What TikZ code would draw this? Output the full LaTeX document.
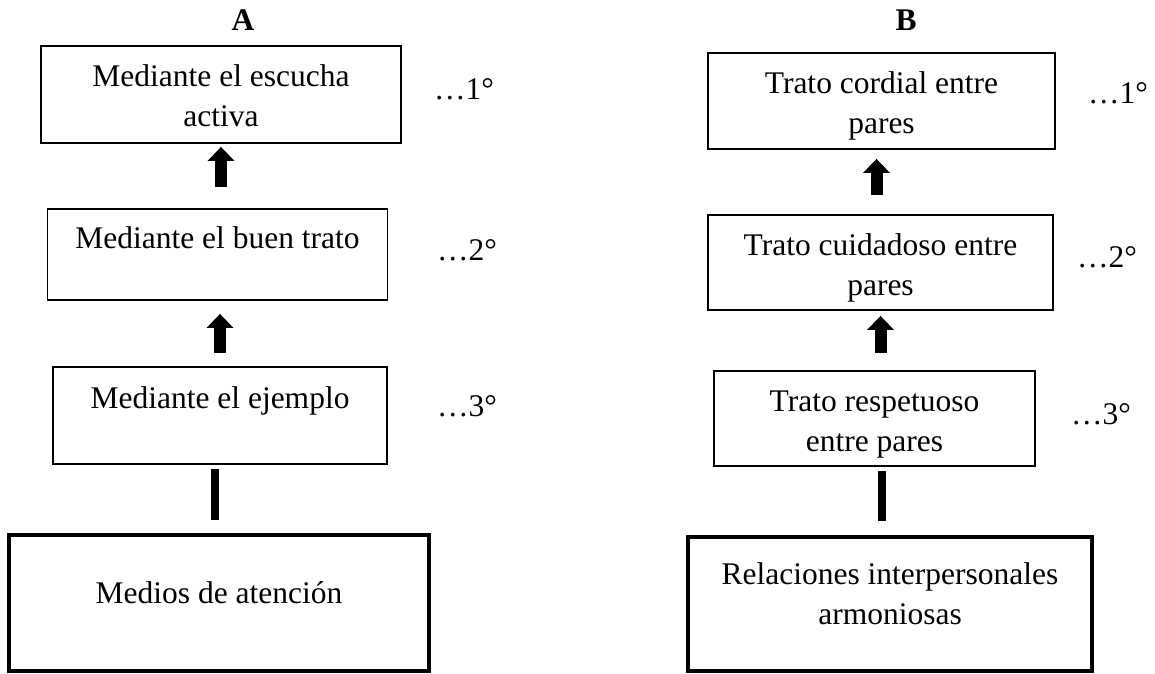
\documentclass[tikz,border=0pt]{standalone}
\usepackage{fontspec}
\setmainfont{Liberation Serif}
\usetikzlibrary{arrows.meta}
\begin{document}
\begin{tikzpicture}[x=1pt,y=-1pt,
  box/.style={draw, line width=1.8pt, inner sep=0pt},
  basebox/.style={draw, line width=3.5pt, inner sep=0pt},
  txt/.style={font=\fontsize{31.5pt}{40pt}\selectfont, align=center, inner sep=0pt, anchor=north},
  lvl/.style={font=\fontsize{31.5pt}{40pt}\selectfont, inner sep=0pt, anchor=base west},
  head/.style={font=\bfseries\fontsize{31.5pt}{40pt}\selectfont, inner sep=0pt, anchor=base},
  fatarrow/.style={line width=12pt, -{Triangle[width=26pt,length=14pt]}},
  bar/.style={line width=8pt}]
\useasboundingbox (0,0) rectangle (1155,673);

% column A
\node[head] (ha) at (243,30) {A};
\node[box, minimum width=360pt, minimum height=97pt] (a1) at (221,94.5) {};
\node[box, minimum width=340pt, minimum height=91pt] (a2) at (217.5,254.5) {};
\node[box, minimum width=334.5pt, minimum height=97pt] (a3) at (220,415.5) {};
\node[basebox, minimum width=420pt, minimum height=136pt] (a4) at (219,603) {};
\node[txt] (ta1) at (221,58) {\strut Mediante el escucha\\activa};
\node[txt] (ta2) at (217.5,220) {\strut Mediante el buen trato};
\node[txt] (ta3) at (220,380) {\strut Mediante el ejemplo};
\node[txt] (ta4) at (219,575) {\strut Medios de atención};
\node[lvl] (la1) at (434,99) {…1°};
\node[lvl] (la2) at (437,260) {…2°};
\node[lvl] (la3) at (437,416) {…3°};
\draw[fatarrow, shorten <=21pt, shorten >=3pt] (a1.south |- a2.north) -- (a1.south);
\draw[fatarrow, shorten <=13pt, shorten >=13pt] (a3.north) -- (a3.north |- a2.south);
\draw[bar, shorten <=13pt, shorten >=4pt] ([xshift=-4pt]a4.north) -- ([xshift=-4pt]a4.north |- a3.south);

% column B
\node[head] (hb) at (906,30) {B};
\node[box, minimum width=347pt, minimum height=96pt] (b1) at (881.5,101) {};
\node[box, minimum width=345pt, minimum height=95pt] (b2) at (880.5,262.5) {};
\node[box, minimum width=321pt, minimum height=95pt] (b3) at (874.5,418.5) {};
\node[basebox, minimum width=404pt, minimum height=134pt] (b4) at (890,604) {};
\node[txt] (tb1) at (881.5,65) {\strut Trato cordial entre\\pares};
\node[txt] (tb2) at (880.5,227) {\strut Trato cuidadoso entre\\pares};
\node[txt] (tb3) at (874.5,383) {\strut Trato respetuoso\\entre pares};
\node[txt] (tb4) at (890,556) {\strut Relaciones interpersonales\\armoniosas};
\node[lvl] (lb1) at (1088,103) {…1°};
\node[lvl] (lb2) at (1077,267) {…2°};
\node[lvl] (lb3) at (1071,424) {…3°};
\draw[fatarrow, shorten <=19pt, shorten >=9pt] ([xshift=-5pt]b1.south |- b2.north) -- ([xshift=-5pt]b1.south);
\draw[fatarrow, shorten <=17pt, shorten >=5pt] (b2.south |- b3.north) -- (b2.south);
\draw[bar, shorten <=14pt, shorten >=4pt] ([xshift=7pt]b3.south |- b4.north) -- ([xshift=7pt]b3.south);
\end{tikzpicture}
\end{document}
